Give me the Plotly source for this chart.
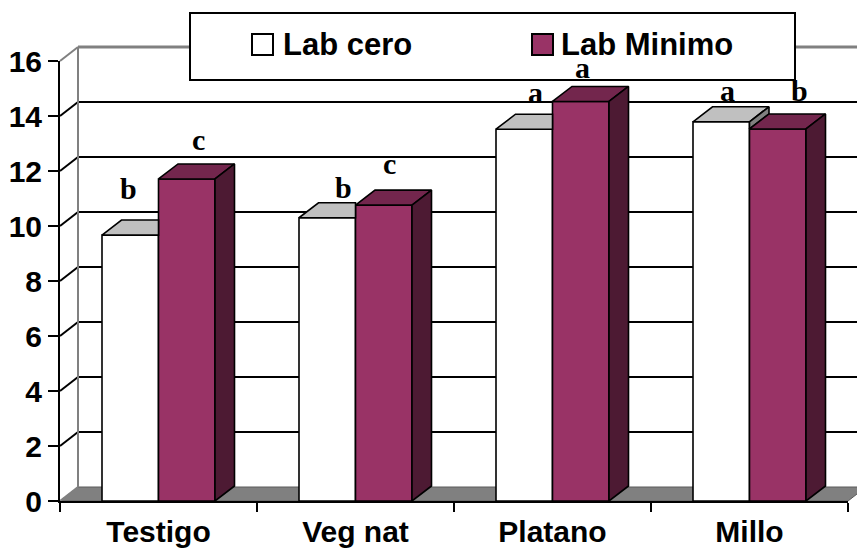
import plotly.graph_objects as go

# ---------------- data ----------------
categories = ["Testigo", "Veg nat", "Platano", "Millo"]
series_names = ["Lab cero", "Lab Minimo"]
lab_cero = [9.67, 10.30, 13.52, 13.79]
lab_minimo = [11.71, 10.76, 14.53, 13.53]
letters_cero = ["b", "b", "a", "a"]
letters_minimo = ["c", "c", "a", "b"]
y_ticks = [0, 2, 4, 6, 8, 10, 12, 14, 16]

# ---------------- style / layout ----------------
W, H = 857, 552
PX_L, PX_R, PX_T, PX_B = 60, 848, 61, 501
X0, X1 = -0.5, len(categories) - 0.5
Y0, Y1 = y_ticks[0], y_ticks[-1]
PPX = (PX_R - PX_L) / (X1 - X0)
PPY = (PX_B - PX_T) / (Y1 - Y0)
BAR_W = 56.5 / PPX
BAR_DX, BAR_DY = 19.5 / PPX, 15 / PPY
WALL_DX, WALL_DY = 18 / PPX, 14 / PPY

WHITE_FRONT, WHITE_TOP, WHITE_SIDE = "#FFFFFF", "#C0C0C0", "#808080"
MAR_FRONT, MAR_TOP, MAR_SIDE = "#993366", "#73264D", "#4D1A33"
FLOOR = "#808080"
FAMILY = "Liberation Sans, Arial, sans-serif"
X_FONT = dict(family=FAMILY, size=30, color="black", weight="bold")
Y_FONT = dict(family=FAMILY, size=30, color="black", weight="bold")
LEG_FONT = dict(family=FAMILY, size=31, color="black", weight="bold")
LET_FONT = dict(family="Liberation Serif, Times New Roman, serif", size=30, color="black", weight="bold")

# per-letter nudges in pixels (x shift, rise of baseline above bar top)
nudge_cero = [(-1.5, 37), (16, 20), (11, 27), (6, 21)]
nudge_minimo = [(12, 29), (6, 32), (2, 24), (22, 28)]


def px_(x):
    return (x - X0) / (X1 - X0)


def py_(y):
    return (y - Y0) / (Y1 - Y0)


def ppx(p):
    return (p - PX_L) / (PX_R - PX_L)


def ppy(p):
    return (PX_B - p) / (PX_B - PX_T)


fig = go.Figure()
xs = list(range(len(categories)))

# front faces
fig.add_trace(go.Bar(x=xs, y=lab_cero, offset=-BAR_W, width=BAR_W, name=series_names[0],
                     marker=dict(color=WHITE_FRONT, line=dict(color="black", width=1.6))))
fig.add_trace(go.Bar(x=xs, y=lab_minimo, offset=0, width=BAR_W, name=series_names[1],
                     marker=dict(color=MAR_FRONT, line=dict(color="black", width=1.6))))


def poly(pts, color):
    fig.add_trace(go.Scatter(x=[p[0] for p in pts] + [pts[0][0]], y=[p[1] for p in pts] + [pts[0][1]],
                             mode="lines", fill="toself", fillcolor=color,
                             line=dict(color="black", width=1.6), hoverinfo="skip", showlegend=False))


for i in xs:
    vw, vm = lab_cero[i], lab_minimo[i]
    xlw, xrw = i - BAR_W, i
    xlm, xrm = i, i + BAR_W
    if vw < vm:
        poly([(xlw, vw), (xrw, vw), (xrw, vw + BAR_DY), (xlw + BAR_DX, vw + BAR_DY)], WHITE_TOP)
    else:
        poly([(xlw, vw), (xrw, vw), (xrw + BAR_DX, vw + BAR_DY), (xlw + BAR_DX, vw + BAR_DY)], WHITE_TOP)
        poly([(xrw, vm), (xrw, vw), (xrw + BAR_DX, vw + BAR_DY), (xrw + BAR_DX, vm + BAR_DY)], WHITE_SIDE)
    poly([(xlm, vm), (xrm, vm), (xrm + BAR_DX, vm + BAR_DY), (xlm + BAR_DX, vm + BAR_DY)], MAR_TOP)
    poly([(xrm, 0), (xrm, vm), (xrm + BAR_DX, vm + BAR_DY), (xrm + BAR_DX, BAR_DY)], MAR_SIDE)

shapes = []
# floor
shapes.append(dict(type="path", xref="paper", yref="paper", layer="below",
                   path=f"M{px_(X0)},{py_(0)} L{px_(X1)},{py_(0)} L{px_(X1 + WALL_DX)},{py_(WALL_DY)} "
                        f"L{px_(X0 + WALL_DX)},{py_(WALL_DY)} Z",
                   fillcolor=FLOOR, line=dict(color="#5A5A5A", width=1)))
# back-wall gridlines and side-wall diagonals
for v in y_ticks:
    if 0 < v < Y1:
        shapes.append(dict(type="line", xref="paper", yref="paper", layer="below",
                           x0=px_(X0 + WALL_DX), x1=px_(X1 + WALL_DX), y0=py_(v + WALL_DY), y1=py_(v + WALL_DY),
                           line=dict(color="black", width=2)))
    shapes.append(dict(type="line", xref="paper", yref="paper", layer="below",
                       x0=px_(X0), x1=px_(X0 + WALL_DX), y0=py_(v), y1=py_(v + WALL_DY),
                       line=dict(color="#808080" if v in (0, Y1) else "black", width=2)))
# back wall top and left edges
shapes.append(dict(type="line", xref="paper", yref="paper", layer="below",
                   x0=px_(X0 + WALL_DX), x1=px_(X1 + WALL_DX), y0=py_(Y1 + WALL_DY), y1=py_(Y1 + WALL_DY),
                   line=dict(color="#808080", width=3)))
shapes.append(dict(type="line", xref="paper", yref="paper", layer="below",
                   x0=px_(X0 + WALL_DX), x1=px_(X0 + WALL_DX), y0=py_(WALL_DY), y1=py_(Y1 + WALL_DY),
                   line=dict(color="#808080", width=2)))
# legend box and keys
shapes.append(dict(type="rect", xref="paper", yref="paper", layer="above",
                   x0=ppx(190), x1=ppx(795), y0=ppy(80), y1=ppy(13),
                   fillcolor="white", line=dict(color="black", width=2)))
shapes.append(dict(type="rect", xref="paper", yref="paper", layer="above",
                   x0=ppx(252), x1=ppx(273), y0=ppy(55), y1=ppy(34),
                   fillcolor=WHITE_FRONT, line=dict(color="black", width=2)))
shapes.append(dict(type="rect", xref="paper", yref="paper", layer="above",
                   x0=ppx(532), x1=ppx(553), y0=ppy(55), y1=ppy(34),
                   fillcolor=MAR_FRONT, line=dict(color="black", width=2)))

annotations = []
annotations.append(dict(text=series_names[0], xref="paper", yref="paper", x=ppx(281), y=ppy(45),
                        xanchor="left", yanchor="middle", showarrow=False, font=LEG_FONT))
annotations.append(dict(text=series_names[1], xref="paper", yref="paper", x=ppx(559), y=ppy(45),
                        xanchor="left", yanchor="middle", showarrow=False, font=LEG_FONT))
for i in xs:
    for val, let, nud, xc in ((lab_cero[i], letters_cero[i], nudge_cero[i], i - BAR_W / 2),
                              (lab_minimo[i], letters_minimo[i], nudge_minimo[i], i + BAR_W / 2)):
        annotations.append(dict(text=let, x=xc, y=val, xref="x", yref="y", showarrow=False,
                                xanchor="center", yanchor="middle", xshift=nud[0], yshift=nud[1] + 10,
                                font=LET_FONT))

fig.update_layout(
    width=W, height=H, autosize=False,
    margin=dict(l=PX_L, r=W - PX_R, t=PX_T, b=H - PX_B, pad=0, autoexpand=False),
    paper_bgcolor="white", plot_bgcolor="white",
    barmode="overlay", showlegend=False,
    shapes=shapes, annotations=annotations,
    xaxis=dict(range=[X0, X1], tickmode="array", tickvals=xs, ticktext=categories, automargin=False,
               showgrid=False, zeroline=False, showline=True, linecolor="black", linewidth=2,
               ticks="", tickfont=X_FONT, ticklabelstandoff=3,
               minor=dict(tickmode="array", tickvals=[k - 0.5 for k in range(len(categories) + 1)],
                          ticks="outside", ticklen=9, tickwidth=2, tickcolor="black", showgrid=False)),
    yaxis=dict(range=[Y0, Y1], tickmode="array", tickvals=y_ticks, automargin=False,
               showgrid=False, zeroline=False, showline=True, linecolor="black", linewidth=2,
               ticks="outside", ticklen=10, tickwidth=2, tickcolor="black", tickfont=Y_FONT),
)

fig.write_html("out.html", config={"displayModeBar": False},
               post_script="document.body.style.margin='0px';")
